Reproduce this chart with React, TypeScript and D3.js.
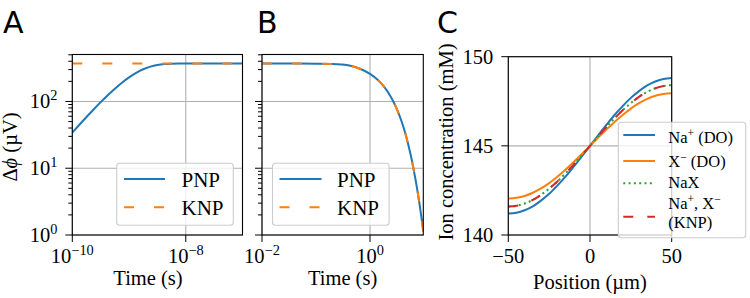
import React from "react";
import * as d3 from "d3";

// ---------- Panel A data ----------
const timesA = [1e-10, 1.334e-10, 1.778e-10, 2.371e-10, 3.162e-10, 4.217e-10, 5.623e-10, 7.499e-10, 1e-9, 1.334e-9, 1.778e-9, 2.371e-9, 3.162e-9, 4.217e-9, 5.623e-9, 7.499e-9, 1e-8, 3.162e-8, 1e-7];
const pnpA = [34.1, 44.8, 58.5, 75.9, 97.6, 124.0, 155.2, 190.8, 229.3, 267.9, 303.3, 332.1, 351.9, 362.8, 367.4, 368.7, 369, 369, 369];
const knpTimesA = [1e-10, 1e-7];
const knpA = [369, 369];
const xTicksA = [1e-10, 1e-8];
const xTickExpA = ["\u221210", "\u22128"];
const yTicksAB = [1, 10, 100];
const yTickExpAB = ["0", "1", "2"];

// ---------- Panel B data ----------
const timesB = [0.01, 0.05, 0.1, 0.2, 0.3, 0.43, 0.65, 1.0, 1.4, 1.77, 2.2, 2.7, 3.3, 3.86, 4.5, 5.1, 5.7, 6.3, 7.0, 7.5, 8.1, 8.7, 9.2, 9.7];
const pnpB = [369, 369, 368, 365.2, 357.7, 343.1, 309.2, 259.2, 209.4, 171.0, 134.0, 100.1, 69.9, 49.6, 33.4, 22.7, 15.5, 10.45, 6.61, 4.79, 3.23, 2.17, 1.56, 1.13];
const knpB = [369, 369, 368, 365.2, 357.7, 343.1, 309.2, 259.2, 209.4, 171.0, 134.0, 100.1, 69.9, 49.6, 33.4, 22.7, 15.5, 10.45, 6.61, 4.79, 3.23, 2.17, 1.56, 1.13];
const xTicksB = [0.01, 1];
const xTickExpB = ["\u22122", "0"];

// ---------- Panel C data ----------
const positionsC = [-50, -45, -40, -35, -30, -25, -20, -15, -10, -5, 0, 5, 10, 15, 20, 25, 30, 35, 40, 45, 50];
const naDO = [141.20, 141.25, 141.39, 141.61, 141.93, 142.31, 142.77, 143.27, 143.83, 144.41, 145.00, 145.59, 146.17, 146.73, 147.23, 147.69, 148.07, 148.39, 148.61, 148.75, 148.80];
const xDO = [142.05, 142.09, 142.19, 142.37, 142.61, 142.91, 143.27, 143.66, 144.09, 144.54, 145.00, 145.46, 145.91, 146.34, 146.73, 147.09, 147.39, 147.63, 147.81, 147.91, 147.95];
const naX = [141.60, 141.64, 141.77, 141.97, 142.25, 142.60, 143.00, 143.46, 143.95, 144.47, 145.00, 145.53, 146.05, 146.54, 147.00, 147.40, 147.75, 148.03, 148.23, 148.36, 148.40];
const knpC = [141.60, 141.64, 141.77, 141.97, 142.25, 142.60, 143.00, 143.46, 143.95, 144.47, 145.00, 145.53, 146.05, 146.54, 147.00, 147.40, 147.75, 148.03, 148.23, 148.36, 148.40];
const xTicksC = [-50, 0, 50];
const yTicksC = [140, 145, 150];

const BLUE = "#1f77b4";
const ORANGE = "#ff7f0e";
const GREEN = "#2ca02c";
const RED = "#d62728";
const GRID = "#b0b0b0";
const SERIF = "'Liberation Serif', 'Times New Roman', serif";
const SANS = "'DejaVu Sans', sans-serif";
const FS = 20.5;
const LW = 2;

type Box = { x0: number; x1: number; y0: number; y1: number };
const boxA: Box = { x0: 72.3, x1: 242.5, y0: 54.5, y1: 235 };
const boxB: Box = { x0: 262, x1: 423.3, y0: 54.5, y1: 235 };
const boxC: Box = { x0: 508.3, x1: 671.7, y0: 56.7, y1: 235 };

const xA = d3.scaleLog().domain([1e-10, 1e-7]).range([boxA.x0, boxA.x1]);
const yA = d3.scaleLog().domain([1, 505]).range([boxA.y1, boxA.y0]);
const xB = d3.scaleLog().domain([0.01, 9.7]).range([boxB.x0, boxB.x1]);
const yB = d3.scaleLog().domain([1, 505]).range([boxB.y1, boxB.y0]);
const xC = d3.scaleLinear().domain([-50, 50]).range([boxC.x0, boxC.x1]);
const yC = d3.scaleLinear().domain([140, 150]).range([boxC.y1, boxC.y0]);

function path(xs: number[], ys: number[], sx: (v: number) => number, sy: (v: number) => number) {
  const pts: [number, number][] = xs.map((v, i) => [sx(v), sy(ys[i])]);
  return d3.line().curve(d3.curveMonotoneX)(pts) || "";
}

const Pow = ({ x, y, base, sup, anchor, size = FS }: any) => (
  <text x={x} y={y} textAnchor={anchor} fontFamily={SERIF} fontSize={size}>
    {base}
    <tspan dy={-size * 0.4} fontSize={size * 0.7}>{sup}</tspan>
  </text>
);

const Spines = ({ b }: { b: Box }) => (
  <rect x={b.x0} y={b.y0} width={b.x1 - b.x0} height={b.y1 - b.y0} fill="none" stroke="#000" strokeWidth={1.1} />
);

function logYTicks(b: Box, sy: any, labels: boolean) {
  const all: number[] = sy.ticks();
  const out: React.ReactNode[] = [];
  all.forEach((v: number, i: number) => {
    const major = Math.abs(Math.log10(v) - Math.round(Math.log10(v))) < 1e-9;
    const y = sy(v);
    out.push(<line key={"t" + i} x1={b.x0 - (major ? 7 : 4)} x2={b.x0} y1={y} y2={y} stroke="#000" strokeWidth={1} />);
  });
  if (labels) {
    yTicksAB.forEach((v, i) => {
      out.push(<Pow key={"l" + i} x={b.x0 - 15} y={sy(v) + 7} base="10" sup={yTickExpAB[i]} anchor="end" />);
    });
  }
  return out;
}

const App = () => {
  const gridA = (
    <g stroke={GRID} strokeWidth={1.1}>
      {xTicksA.map((v, i) => <line key={"gx" + i} x1={xA(v)} x2={xA(v)} y1={boxA.y0} y2={boxA.y1} />)}
      {yTicksAB.map((v, i) => <line key={"gy" + i} x1={boxA.x0} x2={boxA.x1} y1={yA(v)} y2={yA(v)} />)}
    </g>
  );
  const gridB = (
    <g stroke={GRID} strokeWidth={1.1}>
      {xTicksB.map((v, i) => <line key={"gx" + i} x1={xB(v)} x2={xB(v)} y1={boxB.y0} y2={boxB.y1} />)}
      {yTicksAB.map((v, i) => <line key={"gy" + i} x1={boxB.x0} x2={boxB.x1} y1={yB(v)} y2={yB(v)} />)}
    </g>
  );
  const gridC = (
    <g stroke={GRID} strokeWidth={1.1}>
      {xTicksC.map((v, i) => <line key={"gx" + i} x1={xC(v)} x2={xC(v)} y1={boxC.y0} y2={boxC.y1} />)}
      {yTicksC.map((v, i) => <line key={"gy" + i} x1={boxC.x0} x2={boxC.x1} y1={yC(v)} y2={yC(v)} />)}
    </g>
  );

  return (
    <svg width={750} height={298} style={{ position: "absolute", left: 0, top: 0, background: "#fff" }}>
      <defs>
        <clipPath id="clipA"><rect x={boxA.x0} y={boxA.y0} width={boxA.x1 - boxA.x0} height={boxA.y1 - boxA.y0} /></clipPath>
        <clipPath id="clipB"><rect x={boxB.x0} y={boxB.y0} width={boxB.x1 - boxB.x0} height={boxB.y1 - boxB.y0} /></clipPath>
        <clipPath id="clipC"><rect x={boxC.x0} y={boxC.y0} width={boxC.x1 - boxC.x0} height={boxC.y1 - boxC.y0} /></clipPath>
      </defs>
      <rect x={0} y={0} width={750} height={298} fill="#fff" />

      {/* Panel letters */}
      <text x={3} y={33} fontFamily={SANS} fontSize={30}>A</text>
      <text x={257} y={33} fontFamily={SANS} fontSize={30}>B</text>
      <text x={437} y={33} fontFamily={SANS} fontSize={30}>C</text>

      {/* ---------- Panel A ---------- */}
      {gridA}
      <g clipPath="url(#clipA)" fill="none" strokeWidth={LW}>
        <path d={path(timesA, pnpA, xA, yA)} stroke={BLUE} />
        <path d={path(knpTimesA, knpA, xA, yA)} stroke={ORANGE} strokeDasharray="10,20" />
      </g>
      <Spines b={boxA} />
      {logYTicks(boxA, yA, true)}
      {xTicksA.map((v, i) => (
        <g key={"xa" + i}>
          <line x1={xA(v)} x2={xA(v)} y1={boxA.y1} y2={boxA.y1 + 7} stroke="#000" strokeWidth={1} />
          <Pow x={xA(v)} y={263} base="10" sup={xTickExpA[i]} anchor="middle" />
        </g>
      ))}
      <text x={148} y={285} textAnchor="middle" fontFamily={SERIF} fontSize={FS}>Time (s)</text>
      <text transform="translate(17,147) rotate(-90)" textAnchor="middle" fontFamily={SERIF} fontSize={FS}>
        Δ<tspan fontStyle="italic">ϕ</tspan> (µV)
      </text>
      <g>
        <rect x={116.7} y={163.3} width={116.6} height={62} rx={3} fill="#fff" fillOpacity={0.8} stroke="#cccccc" strokeWidth={1.1} />
        <line x1={124} x2={165} y1={179} y2={179} stroke={BLUE} strokeWidth={LW} />
        <line x1={124} x2={165} y1={207.3} y2={207.3} stroke={ORANGE} strokeWidth={LW} strokeDasharray="10,20" />
        <text x={181.5} y={186.5} fontFamily={SERIF} fontSize={21}>PNP</text>
        <text x={181.5} y={214.5} fontFamily={SERIF} fontSize={21}>KNP</text>
      </g>

      {/* ---------- Panel B ---------- */}
      {gridB}
      <g clipPath="url(#clipB)" fill="none" strokeWidth={LW}>
        <path d={path(timesB, pnpB, xB, yB)} stroke={BLUE} />
        <path d={path(timesB, knpB, xB, yB)} stroke={ORANGE} strokeDasharray="10,20" />
      </g>
      <Spines b={boxB} />
      {logYTicks(boxB, yB, false)}
      {xTicksB.map((v, i) => (
        <g key={"xb" + i}>
          <line x1={xB(v)} x2={xB(v)} y1={boxB.y1} y2={boxB.y1 + 7} stroke="#000" strokeWidth={1} />
          <Pow x={xB(v)} y={263} base="10" sup={xTickExpB[i]} anchor="middle" />
        </g>
      ))}
      <text x={342.6} y={285} textAnchor="middle" fontFamily={SERIF} fontSize={FS}>Time (s)</text>
      <g>
        <rect x={272.5} y={163.3} width={116.6} height={62} rx={3} fill="#fff" fillOpacity={0.8} stroke="#cccccc" strokeWidth={1.1} />
        <line x1={279.5} x2={321.5} y1={179} y2={179} stroke={BLUE} strokeWidth={LW} />
        <line x1={279.5} x2={321.5} y1={207.3} y2={207.3} stroke={ORANGE} strokeWidth={LW} strokeDasharray="10,20" />
        <text x={337} y={186.5} fontFamily={SERIF} fontSize={21}>PNP</text>
        <text x={337} y={214.5} fontFamily={SERIF} fontSize={21}>KNP</text>
      </g>

      {/* ---------- Panel C ---------- */}
      {gridC}
      <g clipPath="url(#clipC)" fill="none" strokeWidth={LW}>
        <path d={path(positionsC, naDO, xC, yC)} stroke={BLUE} />
        <path d={path(positionsC, xDO, xC, yC)} stroke={ORANGE} />
        <path d={path(positionsC, naX, xC, yC)} stroke={GREEN} strokeDasharray="2,3.3" />
        <path d={path(positionsC, knpC, xC, yC)} stroke={RED} strokeDasharray="10,14" />
      </g>
      <Spines b={boxC} />
      {yTicksC.map((v, i) => (
        <g key={"yc" + i}>
          <line x1={boxC.x0 - 7} x2={boxC.x0} y1={yC(v)} y2={yC(v)} stroke="#000" strokeWidth={1} />
          <text x={boxC.x0 - 15} y={yC(v) + 7} textAnchor="end" fontFamily={SERIF} fontSize={FS}>{v}</text>
        </g>
      ))}
      {xTicksC.map((v, i) => (
        <g key={"xc" + i}>
          <line x1={xC(v)} x2={xC(v)} y1={boxC.y1} y2={boxC.y1 + 7} stroke="#000" strokeWidth={1} />
          <text x={xC(v)} y={263} textAnchor="middle" fontFamily={SERIF} fontSize={FS}>{v < 0 ? "\u2212" + Math.abs(v) : String(v)}</text>
        </g>
      ))}
      <text x={590} y={289} textAnchor="middle" fontFamily={SERIF} fontSize={FS}>Position (µm)</text>
      <text transform="translate(453,142) rotate(-90)" textAnchor="middle" fontFamily={SERIF} fontSize={FS}>Ion concentration (mM)</text>
      <g fontFamily={SERIF} fontSize={16.5}>
        <rect x={618.3} y={122.3} width={127.4} height={115.4} rx={3} fill="#fff" fillOpacity={0.8} stroke="#cccccc" strokeWidth={1.1} />
        <line x1={623.3} x2={655} y1={135} y2={135} stroke={BLUE} strokeWidth={LW} />
        <line x1={623.3} x2={655} y1={161} y2={161} stroke={ORANGE} strokeWidth={LW} />
        <line x1={623.3} x2={655} y1={183.3} y2={183.3} stroke={GREEN} strokeWidth={LW} strokeDasharray="2,3.3" />
        <line x1={623.3} x2={655} y1={216.7} y2={216.7} stroke={RED} strokeWidth={LW} strokeDasharray="10,14" />
        <text x={668.3} y={143}>Na<tspan dy={-6} fontSize={11.5}>+</tspan><tspan dy={6}> (DO)</tspan></text>
        <text x={668.3} y={166.7}>X<tspan dy={-6} fontSize={11.5}>{"\u2212"}</tspan><tspan dy={6}> (DO)</tspan></text>
        <text x={668.3} y={188.3}>NaX</text>
        <text x={668.3} y={209}>Na<tspan dy={-6} fontSize={11.5}>+</tspan><tspan dy={6}>, X</tspan><tspan dy={-6} fontSize={11.5}>{"\u2212"}</tspan></text>
        <text x={668.3} y={228}>(KNP)</text>
      </g>
    </svg>
  );
};

export default App;
